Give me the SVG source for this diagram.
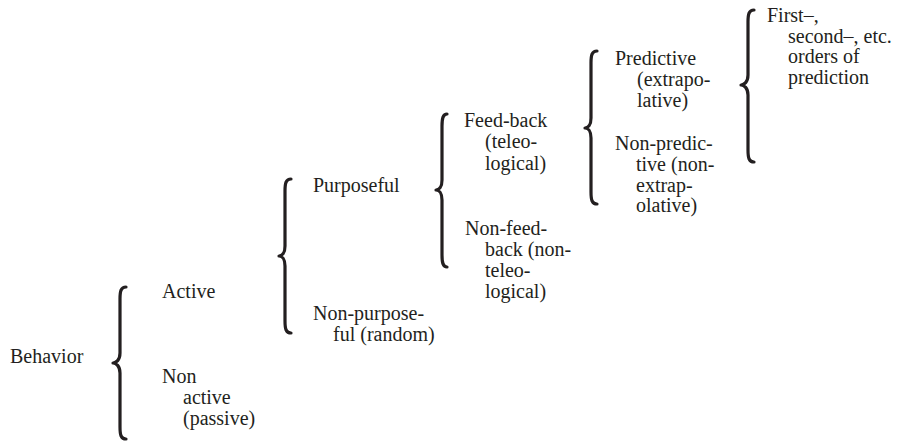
<svg xmlns="http://www.w3.org/2000/svg" width="897" height="442" viewBox="0 0 897 442">
<style>
  .t { font-size: 20px; fill: #231f20; }
  .brace { fill: none; stroke: #231f20; stroke-width: 3.2; stroke-linecap: round; stroke-linejoin: round; }
</style>
<rect width="897" height="442" fill="#ffffff"/>
<g id="connectors">
  <path class="brace" d="M126,287 C121,287 120,291 120,299 L120,353 C120,360 116,363 113,363 C116,363 120,366 120,373 L120,427 C120,435 121,439 126,439"/>
  <path class="brace" d="M291,179 C286,179 285,183 285,191 L285,246 C285,253 282,256 279,256 C282,256 285,259 285,266 L285,321 C285,329 286,333 291,333"/>
  <path class="brace" d="M447,114 C443,114 442,118 442,126 L442,180 C442,187 439,190 436,190 C439,190 442,193 442,200 L442,255 C442,263 443,267 447,267"/>
  <path class="brace" d="M597,51 C592,51 591,55 591,63 L591,118 C591,125 588,128 585,128 C588,128 591,131 591,138 L591,192 C591,200 592,204 597,204"/>
  <path class="brace" d="M754,10 C749,10 748,14 748,22 L748,75 C748,82 744,85 741,85 C744,85 748,88 748,95 L748,150 C748,158 749,162 754,162"/>
</g>
<g class="t" font-family="Liberation Serif, Tinos, Times New Roman, DejaVu Serif, serif">
<g id="behavior"><text x="10" y="363">Behavior</text></g>
<g id="active"><text x="162" y="298">Active</text></g>
<g id="non-active">
  <text x="162" y="383">Non</text>
  <text x="183" y="404">active</text>
  <text x="183" y="425">(passive)</text>
</g>
<g id="purposeful"><text x="313" y="192">Purposeful</text></g>
<g id="non-purposeful">
  <text x="313" y="320">Non-purpose-</text>
  <text x="333" y="341">ful (random)</text>
</g>
<g id="feedback">
  <text x="464" y="127">Feed-back</text>
  <text x="485" y="148">(teleo-</text>
  <text x="485" y="170">logical)</text>
</g>
<g id="non-feedback">
  <text x="465" y="235">Non-feed-</text>
  <text x="485" y="256">back (non-</text>
  <text x="485" y="277">teleo-</text>
  <text x="485" y="298">logical)</text>
</g>
<g id="predictive">
  <text x="615" y="65">Predictive</text>
  <text x="637" y="86">(extrapo-</text>
  <text x="637" y="107">lative)</text>
</g>
<g id="non-predictive">
  <text x="615" y="150">Non-predic-</text>
  <text x="636" y="171">tive (non-</text>
  <text x="636" y="192">extrap-</text>
  <text x="636" y="212">olative)</text>
</g>
<g id="orders">
  <text x="767" y="22">First–,</text>
  <text x="788" y="43">second–, etc.</text>
  <text x="788" y="63">orders of</text>
  <text x="788" y="84">prediction</text>
</g>
</g>
</svg>
